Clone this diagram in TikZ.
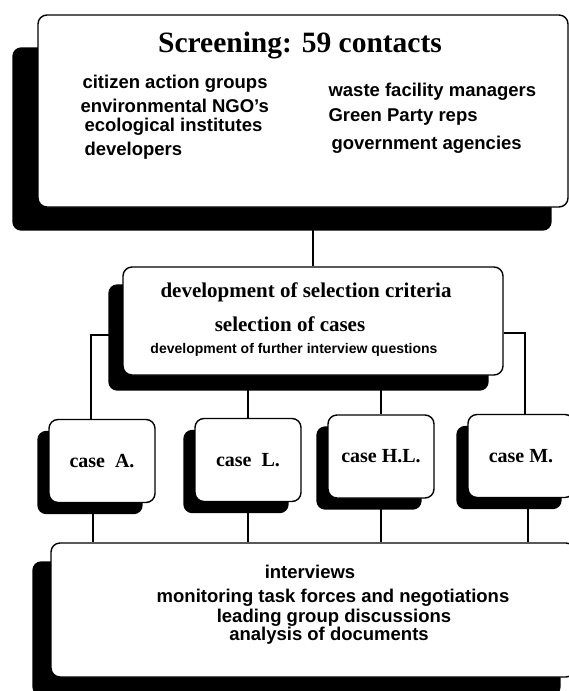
\documentclass[tikz,border=0pt]{standalone}
\usepackage{fontspec}
\setmainfont{Liberation Serif}
\setsansfont{Liberation Sans}
\usetikzlibrary{backgrounds}

\begin{document}
\begin{tikzpicture}[x=1pt,y=-1pt,
  panel/.style={draw, line width=1.4pt, rounded corners=9pt, fill=white, inner sep=0pt},
  drop/.style={fill=black, rounded corners=9pt},
  link/.style={line width=1.1pt},
  rmbf/.style={font=\fontsize{#1}{#1}\selectfont\bfseries},
  sfbf/.style={font=\sffamily\bfseries\fontsize{#1}{#1}\selectfont},
  casebox/.style={panel, rmbf=20, minimum width=106pt, minimum height=83pt}]
  \useasboundingbox (0,0) rectangle (569,691);

  % boxes
  \node[panel, minimum width=530pt, minimum height=192pt] (screen) at (303,111) {};
  \node[panel, minimum width=380pt, minimum height=108pt] (select) at (313,321) {};
  \node[casebox] (caseA) at (102,461) {case~~A.};
  \node[casebox] (caseL) at (248,460) {case~~L.};
  \node[casebox] (caseHL) at (381,456.5) {case H.L.};
  \node[casebox] (caseM) at (521,456) {case M.};
  \node[panel, minimum width=524pt, minimum height=134pt] (work) at (313,610) {};

  % screening
  \node[rmbf=29.5] (title) at (300,46) {Screening: 59 contacts};
  \node[sfbf=18.5, anchor=west] (g1) at (79,84) {citizen action groups};
  \node[sfbf=18.5, anchor=west] (g2) at (77,106) {environmental NGO's};
  \node[sfbf=18.5, anchor=west] (g3) at (81,127) {ecological institutes};
  \node[sfbf=18.5, anchor=west] (g4) at (81,151) {developers};
  \node[sfbf=18.5, anchor=west] (g5) at (325,92) {waste facility managers};
  \node[sfbf=18.5, anchor=west] (g6) at (325,117) {Green Party reps};
  \node[sfbf=18.5, anchor=west] (g7) at (328,145) {government agencies};

  % selection
  \node[rmbf=21] (s1) at (306,292) {development of selection criteria};
  \node[rmbf=21] (s2) at (290,324) {selection of cases};
  \node[sfbf=14] (s3) at (294,350) {development of further interview questions};

  % field work
  \node[sfbf=18.5] (w1) at (310,572) {interviews};
  \node[sfbf=18.5] (w2) at (333,598) {monitoring task forces and negotiations};
  \node[sfbf=18.5] (w3) at (334,618) {leading group discussions};
  \node[sfbf=18.5] (w4) at (329,636) {analysis of documents};

  \begin{scope}[on background layer]
    % connectors
    \draw[link] (screen.south -| select.north) -- (select.north);
    \draw[link] ([yshift=-14pt]select.west) -| ([xshift=-11pt]caseA.north);
    \draw[link] ([yshift=-12pt]select.east) -| ([xshift=4pt]caseM.north);
    \draw[link] (select.south -| caseL.north) -- (caseL.north);
    \draw[link] (select.south -| caseHL.north) -- (caseHL.north);
    \draw[link] ([xshift=-9pt]caseA.south) -- ([xshift=-9pt]caseA.south |- work.north);
    \draw[link] (caseL.south) -- (caseL.south |- work.north);
    \draw[link] (caseHL.south) -- (caseHL.south |- work.north);
    \draw[link] ([xshift=7pt]caseM.south) -- ([xshift=7pt]caseM.south |- work.north);
    % shadows
    \fill[drop] ([shift={(-25,33)}]screen.north west) rectangle ([shift={(-17,23)}]screen.south east);
    \fill[drop] ([shift={(-14,18)}]select.north west) rectangle ([shift={(-15,15)}]select.south east);
    \foreach \c in {caseA,caseL,caseHL,caseM}
      \fill[drop] ([shift={(-11,12)}]\c.north west) rectangle ([shift={(-13,11)}]\c.south east);
    \fill[drop] ([shift={(-18,19)}]work.north west) rectangle ([shift={(-15,18)}]work.south east);
  \end{scope}
\end{tikzpicture}
\end{document}
